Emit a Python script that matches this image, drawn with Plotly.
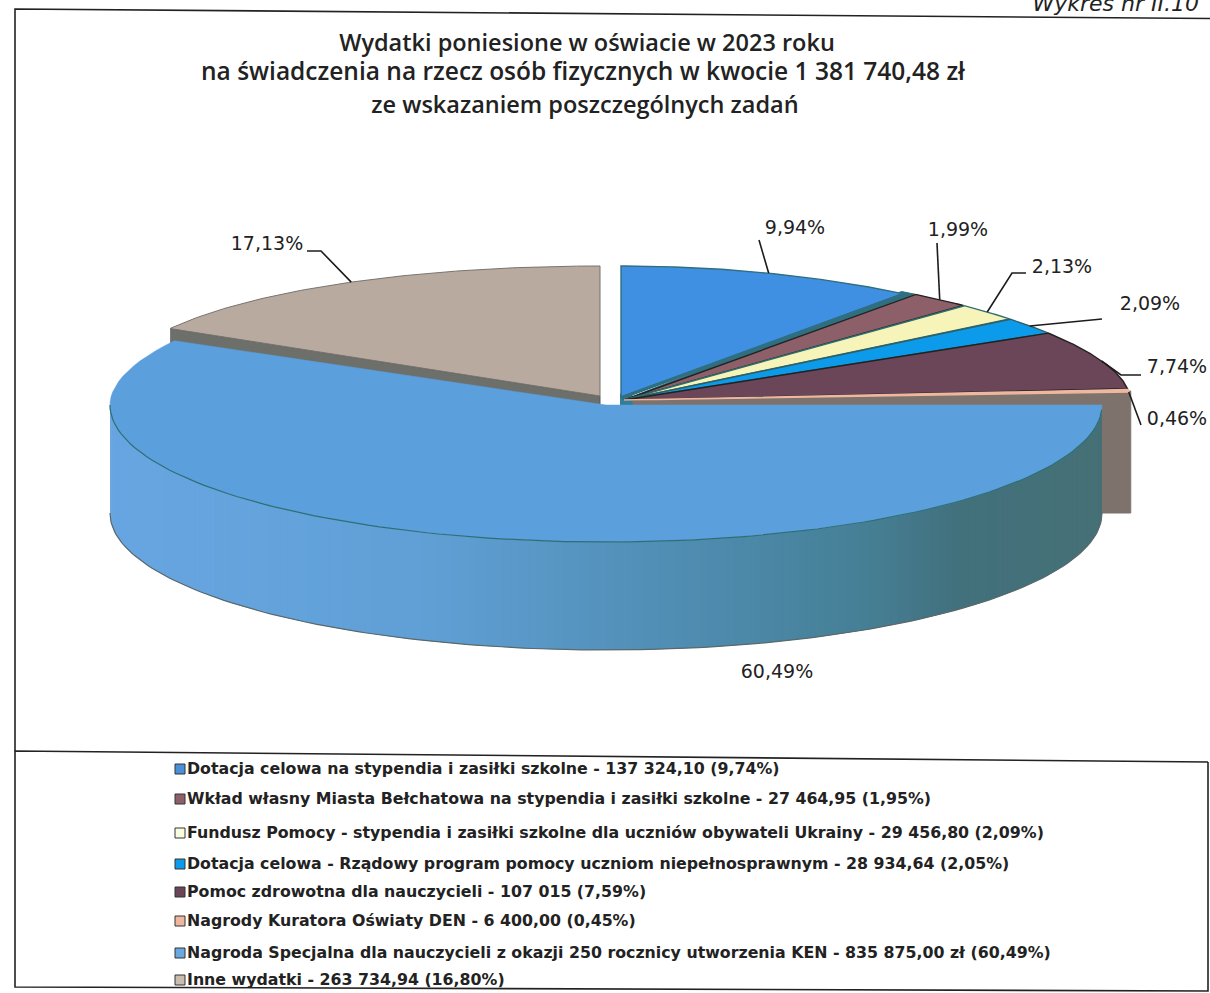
import math
import numpy as np
import plotly.graph_objects as go

# ---------- data ----------
title_lines = ["Wydatki poniesione w oświacie w 2023 roku",
               "na świadczenia na rzecz osób fizycznych w kwocie 1 381 740,48 zł",
               "ze wskazaniem poszczególnych zadań"]
categories = ["Dotacja celowa na stypendia i zasiłki szkolne",
              "Wkład własny Miasta Bełchatowa na stypendia i zasiłki szkolne",
              "Fundusz Pomocy - stypendia i zasiłki szkolne dla uczniów obywateli Ukrainy",
              "Dotacja celowa - Rządowy program pomocy uczniom niepełnosprawnym",
              "Pomoc zdrowotna dla nauczycieli",
              "Nagrody Kuratora Oświaty DEN",
              "Nagroda Specjalna dla nauczycieli z okazji 250 rocznicy utworzenia KEN",
              "Inne wydatki"]
amount_text = ["137 324,10", "27 464,95", "29 456,80", "28 934,64", "107 015",
               "6 400,00", "835 875,00 zł", "263 734,94"]
legend_pct = ["9,74%", "1,95%", "2,09%", "2,05%", "7,59%", "0,45%", "60,49%", "16,80%"]
slice_pct = [9.94, 1.99, 2.13, 2.09, 7.74, 0.46, 60.49, 17.13]
slice_labels = ["9,94%", "1,99%", "2,13%", "2,09%", "7,74%", "0,46%", "60,49%", "17,13%"]
colors = ["#3f8fe3", "#8d6069", "#f6f4b9", "#0c9bea", "#6a4658", "#efb79f", "#5b9fdc", "#b9aa9f"]
wall_stops = [(110, (104, 166, 226)), (420, (96, 160, 214)), (640, (82, 144, 184)),
              (860, (70, 128, 150)), (960, (66, 112, 124)), (1103, (70, 112, 118))]

# ---------- layout constants (page pixels) ----------
W, H = 1210, 993
MAIN = dict(cx=624, cy=400, a=506, b=134, k=0.2)
FIRST = dict(cx=621, cy=397, a=490, b=131, k=0.2)
NEAR = dict(cx=606, cy=405, a=496, b=137, k=0.1)
BACK = dict(cx=600, cy=396, a=494, b=130, k=-0.1)
DEPTH = 108

total = sum(slice_pct)
edges = np.cumsum([0] + slice_pct) / total * 360


def rim(g, deg):
    t = np.radians(deg)
    Y = np.cos(t)
    f = 1 / (1 + g["k"] * (1 - Y)) if Y > 0 else 1.0
    return g["cx"] + g["a"] * np.sin(t), g["cy"] - g["b"] * Y * f


def arc(g, d0, d1, n=90):
    pts = [rim(g, d) for d in np.linspace(d0, d1, n)]
    return [p[0] for p in pts], [p[1] for p in pts]


def wedge(g, d0, d1, color, line, lw=1.5):
    xs, ys = arc(g, d0, d1)
    return go.Scatter(x=[g["cx"]] + xs + [g["cx"]], y=[g["cy"]] + ys + [g["cy"]],
                      mode="lines", fill="toself", fillcolor=color,
                      line=dict(color=line, width=lw), hoverinfo="skip", showlegend=False)


def poly(xs, ys, color, line=None, lw=1):
    return go.Scatter(x=xs, y=ys, mode="lines", fill="toself", fillcolor=color,
                      line=dict(color=line or color, width=lw), hoverinfo="skip", showlegend=False)


def path(xs, ys, color="#1c1c1c", lw=1.6):
    return go.Scatter(x=xs, y=ys, mode="lines", line=dict(color=color, width=lw),
                      hoverinfo="skip", showlegend=False)


def wall_color(x):
    px = [s[0] for s in wall_stops]
    c = [float(np.interp(x, px, [s[1][i] for s in wall_stops])) for i in range(3)]
    return "rgb(%d,%d,%d)" % tuple(c)


fig = go.Figure()

# frame
fig.add_trace(path([15, 15, 1210], [751, 9, 18.5], "#222222", 1.6))

# back slice: cut wall, then top
bx, by = rim(BACK, edges[7])
fig.add_trace(poly([bx, BACK["cx"], BACK["cx"], bx], [by, BACK["cy"], BACK["cy"] + 14, by + 16], "#6d6f6b", "#55585a", 1))
fig.add_trace(wedge(BACK, edges[7], 360, colors[7], "#77736f", 1))

# grey cut wall of the thin slice behind the big one
sx, sy = rim(MAIN, edges[6])
fig.add_trace(poly([MAIN["cx"] + 2, sx + 2, sx + 2, MAIN["cx"] + 2],
                   [MAIN["cy"] - 1, sy - 1, 513, 513], "#7d736c", "#7d736c", 1))
fig.add_trace(poly([620, 632, 632, 620], [394, 394, 408, 408], "#2f7f9c"))

# far slices
line_cols = ["#2f6f80", "#222222", "#2f6f70", "#2f5f66", "#222222", "#efb79f"]
fig.add_trace(wedge(MAIN, edges[1] - 2.0, edges[1], "#2f6f80", "#2f6f80", 1))
for i in range(1, 6):
    fig.add_trace(wedge(MAIN, edges[i], edges[i + 1], colors[i], line_cols[i], 1.4))
fig.add_trace(wedge(FIRST, edges[0], edges[1], colors[0], line_cols[0], 1.4))
ex, ey = rim(FIRST, edges[1])
fig.add_trace(path([FIRST["cx"], ex], [FIRST["cy"] + 1, ey + 1], "#2f6f80", 3))

# big slice: outer wall strips
d0 = 90.0
d1 = edges[7]
deg = np.linspace(d0, 270, 181)
for i in range(len(deg) - 1):
    j = min(i + 2, len(deg) - 1)
    xa, ya = rim(NEAR, deg[i])
    xb, yb = rim(NEAR, deg[j])
    xm, ym = rim(NEAR, deg[i + 1])
    col = wall_color(xm)
    fig.add_trace(poly([xa, xm, xb, xb, xm, xa],
                       [ya, ym, yb, yb + DEPTH, ym + DEPTH, ya + DEPTH], col, col, 0))
xs, ys = arc(NEAR, d0, 270, 160)
fig.add_trace(path(xs, [y + DEPTH for y in ys], "#5a6a6c", 1.2))
# big slice: top
fig.add_trace(wedge(NEAR, d0, d1, colors[6], colors[6], 0.5))
xs, ys = arc(NEAR, 92, 270, 120)
fig.add_trace(path(xs, ys, "#2e6f74", 1.2))

# leader lines, starting on each slice's rim
mids = (edges[:-1] + edges[1:]) / 2
leader_tails = {0: [(759, 240)], 1: [(937, 243)], 2: [(1012, 273), (1026, 273)],
                3: [(1102, 319)], 4: [(1121, 375), (1141, 375)], 5: [(1141, 425)],
                7: [(321, 251), (307, 251)]}
for i, tail in leader_tails.items():
    g = BACK if i == 7 else (FIRST if i == 0 else MAIN)
    x0, y0 = rim(g, mids[i] if i != 5 else edges[6])
    fig.add_trace(path([x0] + [p[0] for p in tail], [y0] + [p[1] for p in tail]))

# slice labels
label_x = [795, 958, 1062, 1150, 1177, 1177, 777, 267]
label_y = [229, 231, 268, 305, 368, 420, 673, 245]
fig.add_trace(go.Scatter(x=label_x, y=label_y, mode="text", text=slice_labels, textposition="middle center",
                         textfont=dict(family="DejaVu Sans", size=19, color="#222222"),
                         hoverinfo="skip", showlegend=False))

# legend box
fig.add_trace(path([1208, 15, 15, 1208, 1208], [762, 751, 987, 991, 762], "#222222", 1.6))
legend_y = [770, 800, 834, 865, 893, 922, 954, 981]
legend_x = [180] * 8
swatch = ["#4a90d9", "#8d6069", "#fbfbe0", "#0c9bea", "#6a4658", "#efb79f", "#6aa8e0", "#cbbcb0"]
fig.add_trace(go.Scatter(x=legend_x, y=[v - 1 for v in legend_y], mode="markers",
                         marker=dict(symbol="square", size=10, color=swatch, line=dict(color="#333333", width=1)),
                         hoverinfo="skip", showlegend=False))
legend_text = ["%s - %s (%s)" % t for t in zip(categories, amount_text, legend_pct)]
fig.add_trace(go.Scatter(x=[187] * 8, y=legend_y, mode="text", text=legend_text, textposition="middle right",
                         textfont=dict(family="DejaVu Sans", size=15.8, color="#222222", weight="bold"),
                         hoverinfo="skip", showlegend=False))

# title and page note
fig.add_trace(go.Scatter(x=[587, 583, 585], y=[45, 74, 107], mode="text", text=title_lines,
                         textposition="middle center",
                         textfont=dict(family="Open Sans", size=[23.5, 24.5, 23.5], color="#222222", weight=600),
                         hoverinfo="skip", showlegend=False))
fig.add_trace(go.Scatter(x=[1199], y=[5], mode="text", text=["Wykres nr II.10"], textposition="middle left",
                         textfont=dict(family="DejaVu Sans", size=22, color="#222222", style="italic"),
                         hoverinfo="skip", showlegend=False))

fig.update_layout(width=W, height=H, margin=dict(l=0, r=0, t=0, b=0), paper_bgcolor="#ffffff",
                  plot_bgcolor="#ffffff", showlegend=False,
                  xaxis=dict(range=[0, W], visible=False, fixedrange=True),
                  yaxis=dict(range=[H, 0], visible=False, fixedrange=True))
fig.write_html("out.html", config=dict(displayModeBar=False),
               post_script="document.body.style.margin='0';document.documentElement.style.overflow='hidden';")
